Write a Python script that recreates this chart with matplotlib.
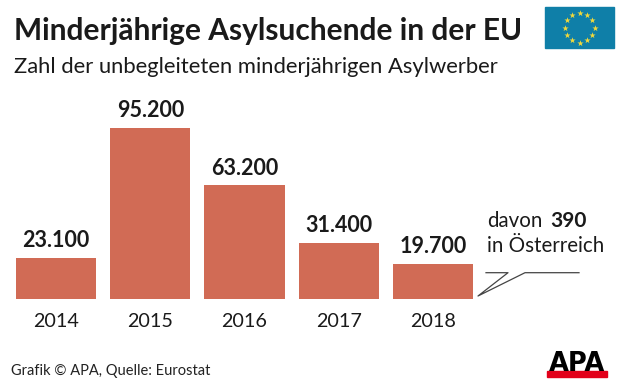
import numpy as np
import matplotlib

matplotlib.use("Agg")
import matplotlib.pyplot as plt
from matplotlib.patches import Rectangle

plt.rcParams["font.family"] = ["Lato", "DejaVu Sans"]

W, H = 620, 388
years = ["2014", "2015", "2016", "2017", "2018"]
values = [23100, 95200, 63200, 31400, 19700]
value_labels = ["23.100", "95.200", "63.200", "31.400", "19.700"]
BAR = "#d16b55"
INK = "#1a1a1a"

fig = plt.figure(figsize=(W / 100, H / 100), dpi=100, facecolor="white")

# bars, placed so baseline sits at y=299px
ax = fig.add_axes([8.9 / W, (H - 299) / H, 471.2 / W, 179.6 / H])
x = np.arange(len(years))
ax.bar(x, values, width=0.85, color=BAR)
ax.set_xlim(-0.5, 4.5)
ax.set_ylim(0, 100000)
ax.axis("off")
for i, (v, lab) in enumerate(zip(values, value_labels)):
    ax.annotate(lab, (i, v), xytext=(0, 5), textcoords="offset points", ha="center", va="bottom",
                fontsize=15.5, fontweight="bold", color=INK)
    ax.annotate(years[i], (i, 0), xytext=(0, -10), textcoords="offset points", ha="center", va="top",
                fontsize=14.2, color=INK)

# overlay in pixel coordinates for the furniture
ov = fig.add_axes([0, 0, 1, 1], zorder=5)
ov.set_xlim(0, W)
ov.set_ylim(H, 0)
ov.axis("off")

ov.text(14, 40, "Minderjährige Asylsuchende in der EU", fontsize=21.5, fontweight="bold", color=INK, va="baseline")
ov.text(14, 73, "Zahl der unbegleiteten minderjährigen Asylwerber", fontsize=15.8, color=INK, va="baseline")

ov.text(487, 227, "davon", fontsize=14.8, color=INK, va="baseline")
ov.text(550, 227, "390", fontsize=15, fontweight="bold", color=INK, va="baseline")
ov.text(487, 252, "in Österreich", fontsize=14.8, color=INK, va="baseline")
ov.plot([486, 508, 478, 525, 579], [272.7, 272.7, 296, 272.7, 272.7], color="#444444", lw=0.9)

ov.text(11, 375, "Grafik © APA, Quelle: Eurostat", fontsize=10.5, color="#222222", va="baseline")

# EU flag
ov.add_patch(Rectangle((545, 7), 69, 41, color="#0f7fa8"))
ang = np.deg2rad(np.arange(0, 360, 30))
ov.scatter(579.5 + 15 * np.cos(ang), 27.5 + 15 * np.sin(ang), marker="*", s=22, color="#f2d93b", lw=0)

# APA logo
ov.text(577, 371, "APA", fontsize=18.5, fontweight="bold", family="DejaVu Sans", color="black", ha="center", va="baseline")
ov.add_patch(Rectangle((547, 371), 60, 6, color="#e2001a"))

fig.savefig("out.png", dpi=100)
